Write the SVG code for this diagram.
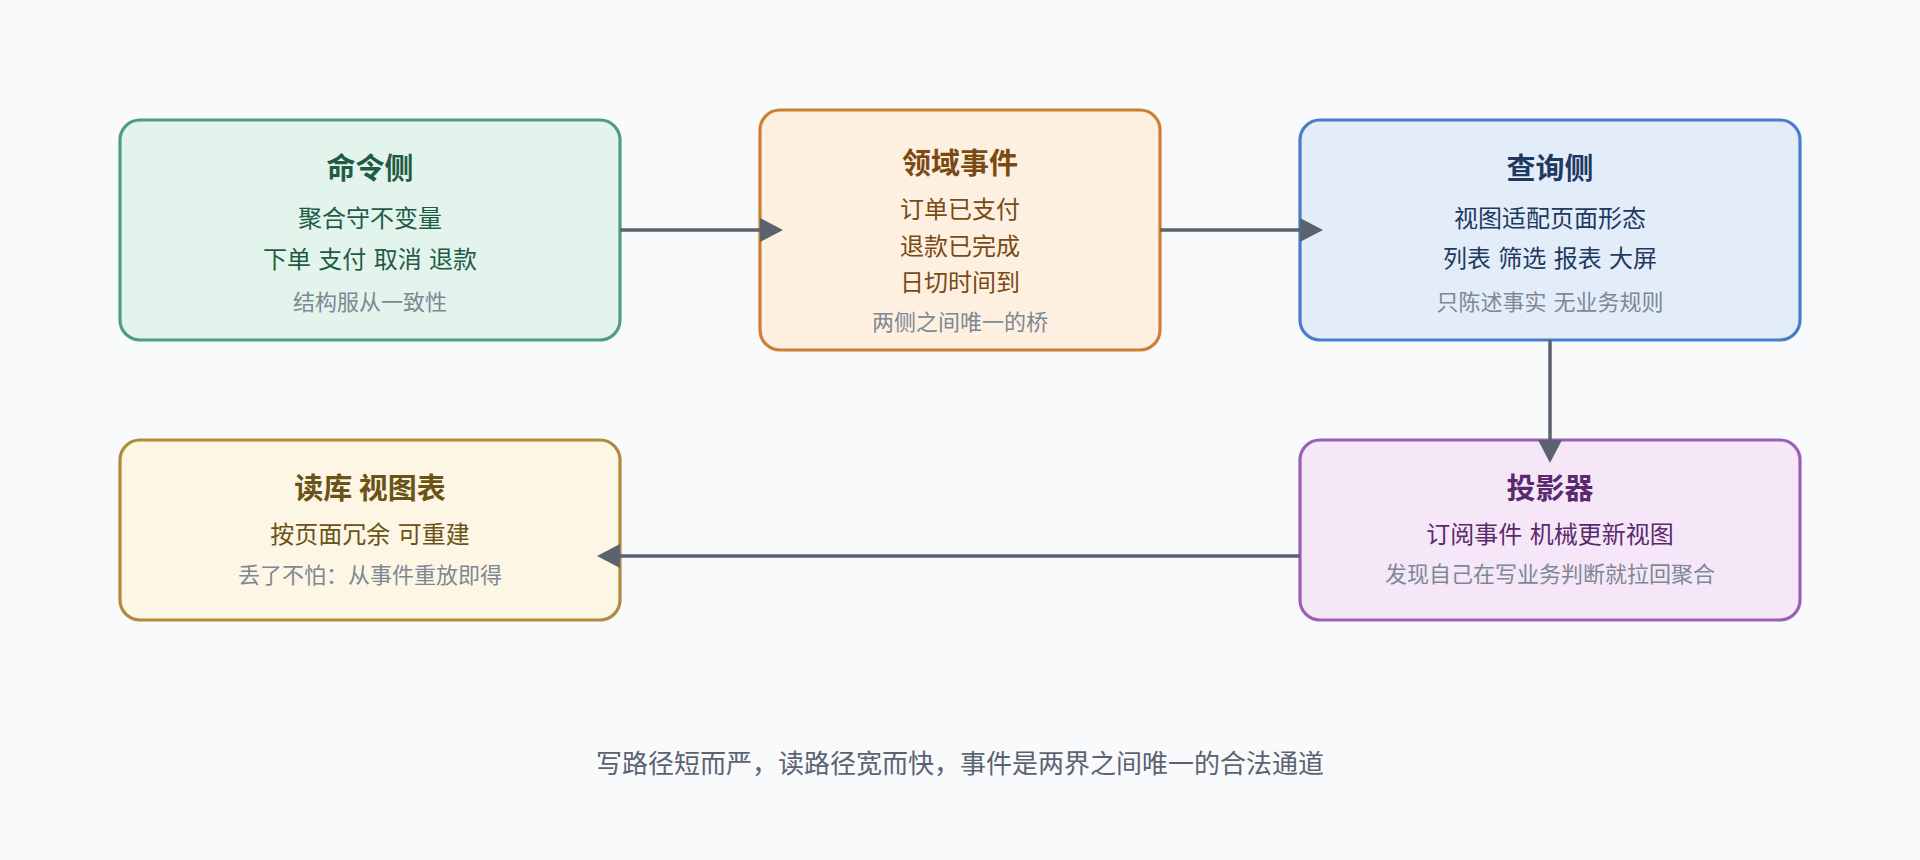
<svg xmlns="http://www.w3.org/2000/svg" width="1920" height="860" viewBox="0 0 1920 860">
  <style>
    text { font-family: "Noto Sans CJK SC", "Noto Sans", sans-serif; text-anchor: middle; dominant-baseline: central; }
    .title { font-size: 29px; font-weight: 700; }
    .body { font-size: 24px; word-spacing: 2px; }
    .foot { font-size: 22px; fill: #7e8794; word-spacing: 2px; }
    .box { stroke-width: 3.2; }
    .conn { stroke: #5b6270; stroke-width: 3.5; fill: none; }
    .caption { font-size: 26px; fill: #5b6370; }
  </style>
  <defs>
    <marker id="arrow" markerUnits="userSpaceOnUse" markerWidth="24" markerHeight="24" viewBox="0 0 24 24" refX="0" refY="12" orient="auto">
      <path d="M0,0 L23,12 L0,24 Z" fill="#5b6270"/>
    </marker>
  </defs>
  <rect x="0" y="0" width="1920" height="860" fill="#f8fafc"/>

  <g id="command-side">
    <rect class="box" x="120" y="120" width="500" height="220" rx="20" fill="#e3f4ec" stroke="#4c9e7d"/>
    <text class="title" x="370" y="165.5" fill="#1f5c45">命令侧</text>
    <text class="body" x="370" y="216" fill="#1f5c45">聚合守不变量</text>
    <text class="body" x="370" y="257" fill="#1f5c45">下单 支付 取消 退款</text>
    <text class="foot" x="370" y="300">结构服从一致性</text>
  </g>

  <g id="domain-events">
    <rect class="box" x="760" y="110" width="400" height="240" rx="20" fill="#fdf0e0" stroke="#cc7f37"/>
    <text class="title" x="960" y="161" fill="#7b4a14">领域事件</text>
    <text class="body" x="960" y="207.5" fill="#7b4a14">订单已支付</text>
    <text class="body" x="960" y="244" fill="#7b4a14">退款已完成</text>
    <text class="body" x="960" y="280" fill="#7b4a14">日切时间到</text>
    <text class="foot" x="960" y="320">两侧之间唯一的桥</text>
  </g>

  <g id="query-side">
    <rect class="box" x="1300" y="120" width="500" height="220" rx="20" fill="#e3edf9" stroke="#4a7cc9"/>
    <text class="title" x="1550" y="165.5" fill="#1e3a5f">查询侧</text>
    <text class="body" x="1550" y="216" fill="#1e3a5f">视图适配页面形态</text>
    <text class="body" x="1550" y="256" fill="#1e3a5f">列表 筛选 报表 大屏</text>
    <text class="foot" x="1550" y="300">只陈述事实 无业务规则</text>
  </g>

  <g id="projector">
    <rect class="box" x="1300" y="440" width="500" height="180" rx="20" fill="#f5e7f8" stroke="#9b5fb8"/>
    <text class="title" x="1550" y="486" fill="#5b2a6e">投影器</text>
    <text class="body" x="1550" y="532" fill="#5b2a6e">订阅事件 机械更新视图</text>
    <text class="foot" x="1550" y="572">发现自己在写业务判断就拉回聚合</text>
  </g>

  <g id="read-db">
    <rect class="box" x="120" y="440" width="500" height="180" rx="20" fill="#fdf6e4" stroke="#b08a3e"/>
    <text class="title" x="370" y="486" fill="#6b5216">读库 视图表</text>
    <text class="body" x="370" y="532" fill="#6b5216">按页面冗余 可重建</text>
    <text class="foot" x="370" y="573">丢了不怕：从事件重放即得</text>
  </g>

  <g id="connectors">
    <line class="conn" x1="620" y1="230" x2="760" y2="230" marker-end="url(#arrow)"/>
    <line class="conn" x1="1160" y1="230" x2="1300" y2="230" marker-end="url(#arrow)"/>
    <line class="conn" x1="1550" y1="340" x2="1550" y2="440" marker-end="url(#arrow)"/>
    <line class="conn" x1="1300" y1="556" x2="620" y2="556" marker-end="url(#arrow)"/>
  </g>

  <text class="caption" x="960" y="761">写路径短而严，读路径宽而快，事件是两界之间唯一的合法通道</text>
</svg>
